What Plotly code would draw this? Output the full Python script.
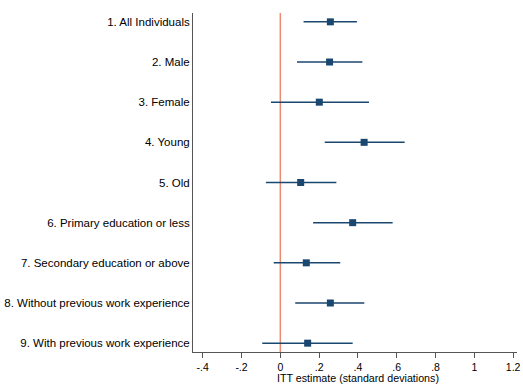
import plotly.graph_objects as go

labels = ["1. All Individuals", "2. Male", "3. Female", "4. Young", "5. Old",
          "6. Primary education or less", "7. Secondary education or above",
          "8. Without previous work experience", "9. With previous work experience"]
estimate = [0.258, 0.254, 0.201, 0.432, 0.105, 0.373, 0.134, 0.258, 0.141]
ci_low = [0.120, 0.086, -0.048, 0.229, -0.074, 0.169, -0.034, 0.077, -0.093]
ci_high = [0.395, 0.423, 0.457, 0.641, 0.289, 0.579, 0.309, 0.433, 0.373]
xticks = [-0.4, -0.2, 0, 0.2, 0.4, 0.6, 0.8, 1, 1.2]
xticklabels = ["-.4", "-.2", "0", ".2", ".4", ".6", ".8", "1", "1.2"]

ypos = list(range(1, len(labels) + 1))
navy = "#1a476f"

fig = go.Figure()
fig.add_shape(type="line", x0=0, x1=0, y0=0, y1=1, xref="x", yref="paper",
              line=dict(color="#ec8a74", width=1.5), layer="below")
fig.add_trace(go.Scatter(
    x=estimate, y=ypos, mode="markers",
    marker=dict(symbol="square", size=7, color=navy),
    error_x=dict(type="data", symmetric=False,
                 array=[h - e for h, e in zip(ci_high, estimate)],
                 arrayminus=[e - l for e, l in zip(estimate, ci_low)],
                 color=navy, thickness=1.5, width=0),
    showlegend=False))

fig.add_annotation(text="ITT estimate (standard deviations)", xref="x", yref="paper",
                   x=0.4, y=0, yshift=-26, yanchor="middle", showarrow=False,
                   font=dict(size=10.7))

fig.update_layout(
    width=523, height=385,
    margin=dict(l=193, r=6, t=13, b=33),
    paper_bgcolor="white", plot_bgcolor="white",
    font=dict(family="Liberation Sans, Arial, sans-serif", size=11, color="black"),
    xaxis=dict(range=[-0.45, 1.22], tickvals=xticks, ticktext=xticklabels,
               showgrid=False, zeroline=False, showline=True, linecolor="#555",
               linewidth=1, ticks="outside", ticklen=5, tickcolor="#555",
               automargin=False, tickfont=dict(size=10.5)),
    yaxis=dict(range=[9.22, 0.78], tickvals=ypos, ticktext=labels,
               showgrid=False, zeroline=False, showline=True, linecolor="#555",
               linewidth=1, ticks="", ticklabelstandoff=0, automargin=False,
               tickfont=dict(size=11.5)),
)
fig.write_html("out.html", config={"displayModeBar": False},
               post_script="document.body.style.margin='0';document.body.style.overflow='hidden';")
